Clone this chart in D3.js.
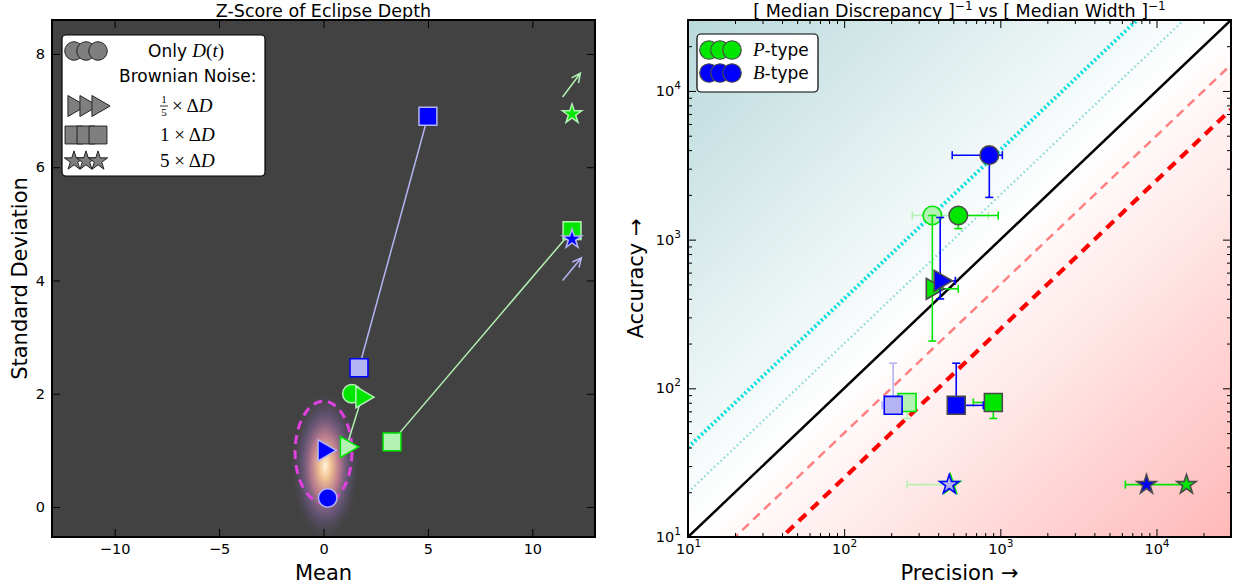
<!DOCTYPE html>
<html>
<head>
<meta charset="utf-8">
<script src="https://cdn.jsdelivr.net/npm/d3@7"></script>
<style>
  body{margin:0;background:#fff;}
  text{font-family:"DejaVu Sans",sans-serif;fill:#000;}
  .math{font-family:"Liberation Serif",serif;}
</style>
</head>
<body>
<svg id="fig" width="1233" height="587"></svg>
<script>
// marker shapes, same order in both panels
const shapes=["circle","triangle","square","star"]

// left panel: z-score of eclipse depth (mean, std), null = not drawn
const zMeanP=[1.36,1.84,11.9,11.9]
const zStdP=[2.0,1.94,4.88,6.94]
const zMeanPLight=[null,1.1,3.28,null]
const zStdPLight=[null,1.06,1.15,null]
const zMeanB=[0.2,0.03,5.0,11.9]
const zStdB=[0.16,1.0,6.9,4.73]
const zMeanBLight=[null,null,1.7,null]
const zStdBLight=[null,null,2.46,null]
// light stars fall off the plot, they are shown as arrows [start,end]
const offStarP=[[11.45,7.24],[12.3,7.66]]
const offStarB=[[11.45,4.0],[12.35,4.4]]
// region expected from pure noise
const noiseCenter=[0,0.97]
const noiseRadius=[1.36,0.9]
const glowCenter=[0.08,0.72]
const glowRadius=[1.6,1.3]
const xTicksL=[-10,-5,0,5,10]
const yTicksL=[0,2,4,6,8]

// right panel: precision (x) and accuracy (y), errors as [low,high] (null = no bar)
const precP=[538,367,902,15560]
const accP=[1453,467,80.3,22.5]
const precErrP=[[null,970],[null,538],[671,null],[6320,null]]
const accErrP=[[1186,null],[208,1453],[62.7,null],null]
const precPLight=[367,null,253,480]
const accPLight=[1453,null,80.3,22.5]
const precErrPLight=[[273,838],null,null,[253,null]]
const accErrPLight=[null,null,[62.7,null],null]
const precB=[850,412,522,8630]
const accB=[3698,528,76.8,22.5]
const precErrB=[[492,1030],[null,515],[null,778],null]
const accErrB=[[1923,null],[399,1409],[null,147.6],null]
const precBLight=[null,null,206,471]
const accBLight=[null,null,76.8,22.5]
const precErrBLight=[null,null,[175,null],null]
const accErrBLight=[null,null,[null,147.6],null]
// reference lines accuracy = k * precision
const ratios=[4,2,1,0.5,0.25]
const xTicksR=[10,100,1000,10000]

const green="#00e600", lightGreen="#b4f2b4", blue="#0000ff", lightBlue="#b4b4f4"

const svg=d3.select("#fig")
const defs=svg.append("defs")

function markerPath(shape){
  const t={circle:[d3.symbolCircle,270],triangle:[d3.symbolTriangle,190],square:[d3.symbolSquare,320],star:[d3.symbolStar,115]}[shape]
  return d3.symbol(t[0],t[1])()
}
function addMarker(g,shape,x,y,fill,edge,w){
  g.append("path").attr("d",markerPath(shape))
    .attr("transform",`translate(${x},${y})`+(shape=="triangle"?" rotate(90)":""))
    .attr("fill",fill).attr("stroke",edge).attr("stroke-width",w||1.5)
}

// frame + inward ticks on the four sides
function frame(g,x,y,xTicks,yTicks,fmtX,fmtY,xMinor,yMinor){
  const [x0,x1]=x.range(), [y0,y1]=y.range()
  const sides=[
    [d3.axisBottom(x),`translate(0,${y0})`,xTicks,fmtX,xMinor],
    [d3.axisTop(x),`translate(0,${y1})`,xTicks,null,xMinor],
    [d3.axisLeft(y),`translate(${x0},0)`,yTicks,fmtY,yMinor],
    [d3.axisRight(y),`translate(${x1},0)`,yTicks,null,yMinor]]
  sides.forEach(([ax,tr,tv,fmt,minor])=>{
    const a=g.append("g").attr("transform",tr)
      .call(ax.tickValues(tv).tickSizeInner(-8).tickSizeOuter(0).tickPadding(7).tickFormat(fmt||(()=>"")))
    a.select(".domain").remove()
    a.selectAll("text").attr("font-size",14.5).attr("font-family","DejaVu Sans")
    if(minor){
      const m=g.append("g").attr("transform",tr).call(ax.tickValues(minor).tickSizeInner(-4).tickFormat(()=>""))
      m.select(".domain").remove()
    }
  })
  g.append("rect").attr("x",x0).attr("y",y1).attr("width",x1-x0).attr("height",y0-y1)
    .attr("fill","none").attr("stroke","#000").attr("stroke-width",2)
}

// ================= LEFT PANEL =================
const xL=d3.scaleLinear().domain([-13,13]).range([52,595])
const yL=d3.scaleLinear().domain([-0.53,8.6]).range([537,20])
defs.append("clipPath").attr("id","clipL").append("rect")
  .attr("x",xL.range()[0]).attr("y",yL.range()[1]).attr("width",xL.range()[1]-xL.range()[0]).attr("height",yL.range()[0]-yL.range()[1])
const L=svg.append("g")
L.append("rect").attr("x",xL.range()[0]).attr("y",yL.range()[1]).attr("width",xL.range()[1]-xL.range()[0]).attr("height",yL.range()[0]-yL.range()[1]).attr("fill","#424242")
const Lp=L.append("g").attr("clip-path","url(#clipL)")

const glow=defs.append("radialGradient").attr("id","glow")
;[[0,"#fff4dc",1],[0.18,"#f9c896",0.95],[0.42,"#d88aa0",0.8],[0.7,"#8a68b0",0.42],[1,"#5a5070",0]]
  .forEach(s=>glow.append("stop").attr("offset",s[0]).attr("stop-color",s[1]).attr("stop-opacity",s[2]))
Lp.append("ellipse").attr("cx",xL(glowCenter[0])).attr("cy",yL(glowCenter[1]))
  .attr("rx",xL(glowRadius[0])-xL(0)).attr("ry",yL(0)-yL(glowRadius[1])).attr("fill","url(#glow)")
Lp.append("ellipse").attr("cx",xL(noiseCenter[0])).attr("cy",yL(noiseCenter[1]))
  .attr("rx",xL(noiseRadius[0])-xL(0)).attr("ry",yL(0)-yL(noiseRadius[1]))
  .attr("fill","none").attr("stroke","#e040e0").attr("stroke-width",3).attr("stroke-dasharray","9,6")

// connecting lines light -> dark
function links(mL,sL,m,s,col){
  shapes.forEach((sh,i)=>{
    if(mL[i]==null) return
    Lp.append("line").attr("x1",xL(mL[i])).attr("y1",yL(sL[i])).attr("x2",xL(m[i])).attr("y2",yL(s[i]))
      .attr("stroke",col).attr("stroke-width",1.5)
  })
}
links(zMeanPLight,zStdPLight,zMeanP,zStdP,lightGreen)
links(zMeanBLight,zStdBLight,zMeanB,zStdB,lightBlue)

function arrow(pts,col){
  const x1=xL(pts[0][0]),y1=yL(pts[0][1]),x2=xL(pts[1][0]),y2=yL(pts[1][1])
  const a=Math.atan2(y2-y1,x2-x1), h=10, w=0.45
  Lp.append("path").attr("d",`M${x1},${y1}L${x2},${y2}M${x2-h*Math.cos(a-w)},${y2-h*Math.sin(a-w)}L${x2},${y2}L${x2-h*Math.cos(a+w)},${y2-h*Math.sin(a+w)}`)
    .attr("fill","none").attr("stroke",col).attr("stroke-width",1.5)
}
arrow(offStarP,lightGreen)
arrow(offStarB,lightBlue)

function zMarkers(m,s,fill,edge){
  shapes.forEach((sh,i)=>{ if(m[i]!=null) addMarker(Lp,sh,xL(m[i]),yL(s[i]),fill,edge,1.5) })
}
zMarkers(zMeanPLight,zStdPLight,lightGreen,green)
zMarkers(zMeanP,zStdP,green,lightGreen)
zMarkers(zMeanBLight,zStdBLight,lightBlue,blue)
zMarkers(zMeanB,zStdB,blue,lightBlue)

frame(L,xL,yL,xTicksL,yTicksL,d3.format("d"),d3.format("d"))

// left legend
const lg=L.append("g")
lg.append("rect").attr("x",62).attr("y",35).attr("width",203).attr("height",141).attr("rx",4)
  .attr("fill","#fff").attr("stroke","#000").attr("stroke-width",1.2)
const legRows=[["circle",51],["triangle",106],["square",135],["star",161]]
legRows.forEach(([sh,yy])=>[74,86,98].forEach(xx=>addMarker(lg,sh,xx,yy,"#7f7f7f","#222",1)))
const t1=lg.append("text").attr("x",148).attr("y",57).attr("font-size",17)
t1.append("tspan").text("Only ")
t1.append("tspan").attr("class","math").attr("font-style","italic").attr("font-size",19).text("D")
t1.append("tspan").attr("class","math").attr("font-size",19).text("(")
t1.append("tspan").attr("class","math").attr("font-style","italic").attr("font-size",19).text("t")
t1.append("tspan").attr("class","math").attr("font-size",19).text(")")
lg.append("text").attr("x",119).attr("y",82).attr("font-size",17).text("Brownian Noise:")
// fraction 1/5
lg.append("text").attr("class","math").attr("x",164).attr("y",103).attr("font-size",11).attr("text-anchor","middle").text("1")
lg.append("line").attr("x1",160).attr("x2",168).attr("y1",106).attr("y2",106).attr("stroke","#000").attr("stroke-width",0.8)
lg.append("text").attr("class","math").attr("x",164).attr("y",116).attr("font-size",11).attr("text-anchor","middle").text("5")
function deltaD(x,y,pre){
  const t=lg.append("text").attr("class","math").attr("x",x).attr("y",y).attr("font-size",19)
  t.append("tspan").text(pre+"× Δ")
  t.append("tspan").attr("font-style","italic").text("D")
}
deltaD(172,112,"")
deltaD(160,141,"1 ")
deltaD(160,167,"5 ")

L.append("text").attr("x",(xL.range()[0]+xL.range()[1])/2).attr("y",17).attr("text-anchor","middle").attr("font-size",17.5).text("Z-Score of Eclipse Depth")
L.append("text").attr("x",(xL.range()[0]+xL.range()[1])/2).attr("y",580).attr("text-anchor","middle").attr("font-size",21).text("Mean")
L.append("text").attr("transform",`translate(27,${(yL.range()[0]+yL.range()[1])/2}) rotate(-90)`).attr("text-anchor","middle").attr("font-size",21).text("Standard Deviation")

// ================= RIGHT PANEL =================
const xR=d3.scaleLog().domain([10,3e4]).range([688,1231])
const yR=d3.scaleLog().domain([10,3e4]).range([537,20])
defs.append("clipPath").attr("id","clipR").append("rect")
  .attr("x",xR.range()[0]).attr("y",yR.range()[1]).attr("width",xR.range()[1]-xR.range()[0]).attr("height",yR.range()[0]-yR.range()[1])
const bg=defs.append("linearGradient").attr("id","bgR").attr("x1",0).attr("y1",0).attr("x2",1).attr("y2",1)
;[[0,"#b8d9db"],[0.5,"#ffffff"],[1,"#ffb8b8"]].forEach(s=>bg.append("stop").attr("offset",s[0]).attr("stop-color",s[1]))
const R=svg.append("g")
R.append("rect").attr("x",xR.range()[0]).attr("y",yR.range()[1]).attr("width",xR.range()[1]-xR.range()[0]).attr("height",yR.range()[0]-yR.range()[1]).attr("fill","url(#bgR)")
const Rp=R.append("g").attr("clip-path","url(#clipR)")

const ratioStyle={4:["#00dede",4,"2,2.6"],2:["#7fd8d8",2.2,"1.5,3"],1:["#000",2.5,null],0.5:["#ff8080",2.5,"9,6"],0.25:["#ff0000",4.2,"10,7"]}
ratios.forEach(k=>{
  const [c,w,d]=ratioStyle[k]
  const [lo,hi]=xR.domain()
  Rp.append("line").attr("x1",xR(lo)).attr("y1",yR(lo*k)).attr("x2",xR(hi)).attr("y2",yR(hi*k))
    .attr("stroke",c).attr("stroke-width",w).attr("stroke-dasharray",d)
})

function errSeries(xs,ys,xe,ye,fill,edge,barCol){
  shapes.forEach((sh,i)=>{
    if(xs[i]==null) return
    const cx=xR(xs[i]), cy=yR(ys[i])
    const ln=(x1,y1,x2,y2)=>Rp.append("line").attr("x1",x1).attr("y1",y1).attr("x2",x2).attr("y2",y2).attr("stroke",barCol).attr("stroke-width",1.6)
    if(xe[i]) xe[i].forEach(v=>{ if(v==null) return; const px=xR(v); ln(px,cy,cx,cy); ln(px,cy-4,px,cy+4) })
    if(ye[i]) ye[i].forEach(v=>{ if(v==null) return; const py=yR(v); ln(cx,py,cx,cy); ln(cx-4,py,cx+4,py) })
    addMarker(Rp,sh,cx,cy,fill,edge,1.6)
  })
}
errSeries(precPLight,accPLight,precErrPLight,accErrPLight,lightGreen,green,lightGreen)
errSeries(precP,accP,precErrP,accErrP,green,"#4a4a4a",green)
errSeries(precBLight,accBLight,precErrBLight,accErrBLight,lightBlue,blue,lightBlue)
errSeries(precB,accB,precErrB,accErrB,blue,"#4a4a4a",blue)

const isPow=v=>Math.abs(Math.log10(v)-Math.round(Math.log10(v)))<1e-9
frame(R,xR,yR,xTicksR,xTicksR,v=>"10^"+Math.round(Math.log10(v)),v=>"10^"+Math.round(Math.log10(v)),
  xR.ticks().filter(v=>!isPow(v)),yR.ticks().filter(v=>!isPow(v)))
// mathtext style powers of ten
R.selectAll(".tick text").each(function(){
  const s=d3.select(this).text()
  if(!s) return
  const e=s.split("^")[1]
  d3.select(this).text("").append("tspan").text("10")
  d3.select(this).append("tspan").attr("font-size",10.5).attr("dy",-7).text(e)
})

// right legend
const rg=R.append("g")
rg.append("rect").attr("x",697).attr("y",34).attr("width",121).attr("height",58).attr("rx",4)
  .attr("fill","#fff").attr("stroke","#000").attr("stroke-width",1.2)
;[[green,50,"P"],[blue,73,"B"]].forEach(([c,yy,letter])=>{
  ;[709,720,732].forEach(xx=>addMarker(rg,"circle",xx,yy,c,"#4a4a4a",1.2))
  const t=rg.append("text").attr("x",753).attr("y",yy+6).attr("font-size",17)
  t.append("tspan").attr("class","math").attr("font-style","italic").attr("font-size",19).text(letter)
  t.append("tspan").text("-type")
})

const cxR=(xR.range()[0]+xR.range()[1])/2, cyR=(yR.range()[0]+yR.range()[1])/2
const tt=R.append("text").attr("x",cxR).attr("y",17).attr("text-anchor","middle").attr("font-size",17.5)
tt.append("tspan").text("[ Median Discrepancy ]")
tt.append("tspan").attr("font-size",12).attr("dy",-7).text("−1")
tt.append("tspan").attr("dy",7).text(" vs [ Median Width ]")
tt.append("tspan").attr("font-size",12).attr("dy",-7).text("−1")
R.append("text").attr("x",cxR).attr("y",580).attr("text-anchor","middle").attr("font-size",21).text("Precision →")
R.append("text").attr("transform",`translate(643,${cyR}) rotate(-90)`).attr("text-anchor","middle").attr("font-size",21).text("Accuracy →")
</script>
</body>
</html>
